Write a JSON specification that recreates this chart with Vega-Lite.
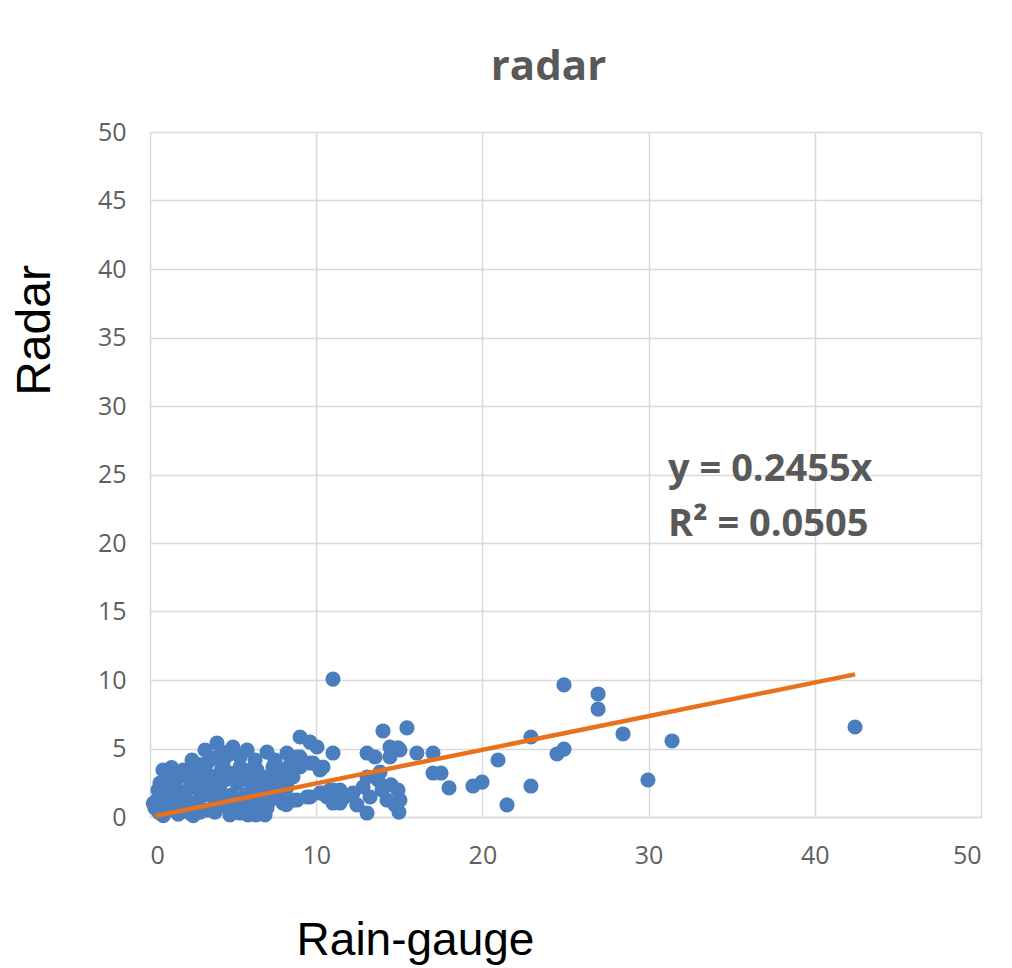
{
  "$schema": "https://vega.github.io/schema/vega-lite/v6.json",
  "width": 831,
  "height": 685,
  "autosize": {"type": "none"},
  "padding": {"left": 150, "top": 132, "right": 31, "bottom": 151},
  "background": "white",
  "config": {"view": {"stroke": null}},
  "title": {
    "text": "radar",
    "font": "Open Sans",
    "fontSize": 42,
    "fontWeight": "bold",
    "color": "#595959",
    "anchor": "middle",
    "dx": -17,
    "baseline": "alphabetic",
    "offset": -2
  },
  "datasets": {
    "pts": [
      {"x": 11.01, "y": 10.07}, {"x": 24.91, "y": 9.64}, {"x": 26.96, "y": 8.98}, {"x": 26.96, "y": 7.88},
      {"x": 42.42, "y": 6.57}, {"x": 28.46, "y": 6.06}, {"x": 31.41, "y": 5.55}, {"x": 22.92, "y": 5.84},
      {"x": 24.91, "y": 4.96}, {"x": 24.49, "y": 4.6}, {"x": 29.96, "y": 2.7}, {"x": 22.92, "y": 2.26},
      {"x": 21.48, "y": 0.88}, {"x": 20.94, "y": 4.16}, {"x": 19.98, "y": 2.55}, {"x": 19.43, "y": 2.26},
      {"x": 17.99, "y": 2.12}, {"x": 17.51, "y": 3.21}, {"x": 17.03, "y": 3.21}, {"x": 17.03, "y": 4.67},
      {"x": 16.06, "y": 4.67}, {"x": 15.46, "y": 6.5}, {"x": 14.02, "y": 6.28}, {"x": 14.92, "y": 5.04},
      {"x": 14.44, "y": 5.11}, {"x": 15.04, "y": 4.89}, {"x": 14.44, "y": 4.38}, {"x": 13.54, "y": 4.38},
      {"x": 13.06, "y": 4.67}, {"x": 11.01, "y": 4.67}, {"x": 10.05, "y": 5.11}, {"x": 9.63, "y": 5.47},
      {"x": 9.03, "y": 5.84}, {"x": 13.84, "y": 3.28}, {"x": 13.72, "y": 2.7}, {"x": 13.96, "y": 1.97},
      {"x": 14.92, "y": 1.97}, {"x": 15.04, "y": 1.24}, {"x": 13.06, "y": 0.29}, {"x": 14.98, "y": 0.36},
      {"x": 11.43, "y": 1.97}, {"x": 10.83, "y": 1.97}, {"x": 11.43, "y": 1.02}, {"x": 12.21, "y": 1.75},
      {"x": 12.82, "y": 2.19}, {"x": 13.24, "y": 1.46}, {"x": 14.26, "y": 1.24}, {"x": 10.65, "y": 1.46},
      {"x": 10.41, "y": 3.65}, {"x": 8.24, "y": 4.67}, {"x": 8.24, "y": 3.43}, {"x": 9.03, "y": 4.38},
      {"x": 9.03, "y": 3.65}, {"x": 9.81, "y": 3.94}, {"x": 8.0, "y": 1.02}, {"x": 8.6, "y": 1.24},
      {"x": 9.63, "y": 1.46}, {"x": 10.41, "y": 1.75}, {"x": 11.01, "y": 1.97}, {"x": 13.06, "y": 2.92},
      {"x": 7.82, "y": 1.97}, {"x": 4.03, "y": 5.4}, {"x": 5.84, "y": 4.89}, {"x": 7.04, "y": 4.74},
      {"x": 4.99, "y": 5.11}, {"x": 0.6, "y": 2.48}, {"x": 0.42, "y": 1.24}, {"x": 0.6, "y": 0.29},
      {"x": 1.99, "y": 3.43}, {"x": 2.41, "y": 2.19}, {"x": 3.43, "y": 3.94}, {"x": 4.39, "y": 3.94},
      {"x": 5.42, "y": 3.65}, {"x": 6.44, "y": 3.43}, {"x": 7.4, "y": 3.65}, {"x": 8.0, "y": 3.43},
      {"x": 8.84, "y": 4.38}, {"x": 9.63, "y": 3.94}, {"x": 10.23, "y": 3.43}, {"x": 1.38, "y": 0.51},
      {"x": 2.41, "y": 0.29}, {"x": 3.43, "y": 0.51}, {"x": 4.63, "y": 0.73}, {"x": 5.42, "y": 0.29},
      {"x": 7.04, "y": 0.66}, {"x": 8.0, "y": 1.24}, {"x": 8.84, "y": 1.24}, {"x": 9.45, "y": 1.46},
      {"x": 10.23, "y": 1.75}, {"x": 11.01, "y": 1.02}, {"x": 1.62, "y": 1.97}, {"x": 3.01, "y": 1.75},
      {"x": 4.21, "y": 1.97}, {"x": 5.23, "y": 2.48}, {"x": 6.2, "y": 2.19}, {"x": 7.22, "y": 2.48},
      {"x": 8.24, "y": 2.19}, {"x": 2.83, "y": 2.92}, {"x": 3.79, "y": 2.92}, {"x": 4.81, "y": 3.21},
      {"x": 5.84, "y": 2.7}, {"x": 6.8, "y": 2.92}, {"x": 1.02, "y": 2.7}, {"x": 1.38, "y": 1.24},
      {"x": 2.59, "y": 1.02}, {"x": 6.02, "y": 1.24}, {"x": 8.6, "y": 2.92}, {"x": 0.3, "y": 0.66},
      {"x": 0.9, "y": 1.61}, {"x": 1.8, "y": 0.88}, {"x": 2.11, "y": 1.61}, {"x": 2.71, "y": 2.34},
      {"x": 3.31, "y": 1.61}, {"x": 3.61, "y": 2.34}, {"x": 3.91, "y": 1.24}, {"x": 4.51, "y": 2.7},
      {"x": 4.93, "y": 1.61}, {"x": 5.72, "y": 1.61}, {"x": 6.32, "y": 0.88}, {"x": 6.62, "y": 1.61},
      {"x": 5.9, "y": 0.15}, {"x": 6.38, "y": 0.15}, {"x": 3.01, "y": 3.8}, {"x": 2.53, "y": 4.16},
      {"x": 3.91, "y": 4.31}, {"x": 4.69, "y": 4.53}, {"x": 5.42, "y": 4.38}, {"x": 6.32, "y": 4.16},
      {"x": 1.68, "y": 3.07}, {"x": 2.29, "y": 2.85}, {"x": 1.2, "y": 1.97}, {"x": 3.01, "y": 0.36},
      {"x": 3.91, "y": 0.36}, {"x": 4.81, "y": 0.15}, {"x": 7.52, "y": 1.61}, {"x": 6.92, "y": 1.97},
      {"x": 7.82, "y": 2.7}, {"x": 3.31, "y": 4.89}, {"x": 4.33, "y": 4.74}, {"x": 0.78, "y": 3.43},
      {"x": 0.48, "y": 1.97}, {"x": 7.52, "y": 4.16}, {"x": 8.42, "y": 3.8}, {"x": 2.11, "y": 0.51},
      {"x": 6.92, "y": 0.15}, {"x": 11.73, "y": 1.46}, {"x": 12.45, "y": 0.88}, {"x": 14.5, "y": 2.34},
      {"x": 14.74, "y": 0.88}, {"x": 0.2, "y": 1.0}, {"x": 0.5, "y": 0.4}, {"x": 1.0, "y": 0.9},
      {"x": 1.5, "y": 2.4}, {"x": 2.0, "y": 1.3}, {"x": 2.5, "y": 3.4}, {"x": 2.9, "y": 0.8},
      {"x": 3.5, "y": 3.1}, {"x": 4.0, "y": 1.6}, {"x": 4.3, "y": 3.5}, {"x": 4.6, "y": 1.1},
      {"x": 5.1, "y": 0.6}, {"x": 5.5, "y": 3.2}, {"x": 6.0, "y": 3.4}, {"x": 6.6, "y": 2.6},
      {"x": 7.2, "y": 1.2}, {"x": 7.6, "y": 3.1}, {"x": 8.2, "y": 0.9}, {"x": 0.8, "y": 0.1},
      {"x": 1.7, "y": 0.2}, {"x": 5.6, "y": 0.9}, {"x": 3.2, "y": 2.6}, {"x": 1.3, "y": 3.6},
      {"x": 6.1, "y": 1.9}, {"x": 2.6, "y": 0.1}
    ],
    "trend": [
      {"x": 0.3, "y": 0.07},
      {"x": 42.42, "y": 10.41}
    ],
    "eq": [
      {"x": 31.17, "y": 25.3, "label": "y = 0.2455x"},
      {"x": 31.17, "y": 21.3, "label": "R² = 0.0505"}
    ]
  },
  "encoding": {
    "x": {
      "field": "x",
      "type": "quantitative",
      "scale": {"domain": [0, 50], "nice": false, "zero": false},
      "axis": {
        "title": "Rain-gauge",
        "values": [0, 10, 20, 30, 40, 50],
        "grid": true,
        "gridColor": "#d9d9d9",
        "gridWidth": 1.5,
        "domain": true,
        "domainColor": "#d9d9d9",
        "domainWidth": 1.5,
        "ticks": false,
        "labelFont": "Open Sans",
        "labelFontSize": 25,
        "labelColor": "#606060",
        "labelPadding": 26,
        "titleFont": "Liberation Sans",
        "titleFontSize": 46,
        "titleFontWeight": "normal",
        "titleColor": "#000000",
        "titleX": 265,
        "titleY": 123,
        "titleAlign": "center",
        "titleBaseline": "middle"
      }
    },
    "y": {
      "field": "y",
      "type": "quantitative",
      "scale": {"domain": [0, 50], "nice": false, "zero": false},
      "axis": {
        "title": "Radar",
        "values": [0, 5, 10, 15, 20, 25, 30, 35, 40, 45, 50],
        "grid": true,
        "gridColor": "#d9d9d9",
        "gridWidth": 1.5,
        "domain": false,
        "ticks": false,
        "labelFont": "Open Sans",
        "labelFontSize": 25,
        "labelColor": "#606060",
        "labelPadding": 24,
        "titleFont": "Liberation Sans",
        "titleFontSize": 48,
        "titleFontWeight": "normal",
        "titleColor": "#000000",
        "titleAngle": -90,
        "titleX": -115,
        "titleY": 198,
        "titleAlign": "center",
        "titleBaseline": "middle"
      }
    }
  },
  "layer": [
    {
      "data": {"name": "pts"},
      "mark": {"type": "circle", "size": 230, "color": "#4a7ebf", "opacity": 1}
    },
    {
      "data": {"name": "trend"},
      "mark": {"type": "line", "color": "#e8711c", "strokeWidth": 4.5}
    },
    {
      "data": {"name": "eq"},
      "mark": {"type": "text", "align": "left", "baseline": "middle", "font": "Open Sans", "fontSize": 38, "fontWeight": "bold", "color": "#595959"},
      "encoding": {"text": {"field": "label", "type": "nominal"}}
    }
  ]
}
